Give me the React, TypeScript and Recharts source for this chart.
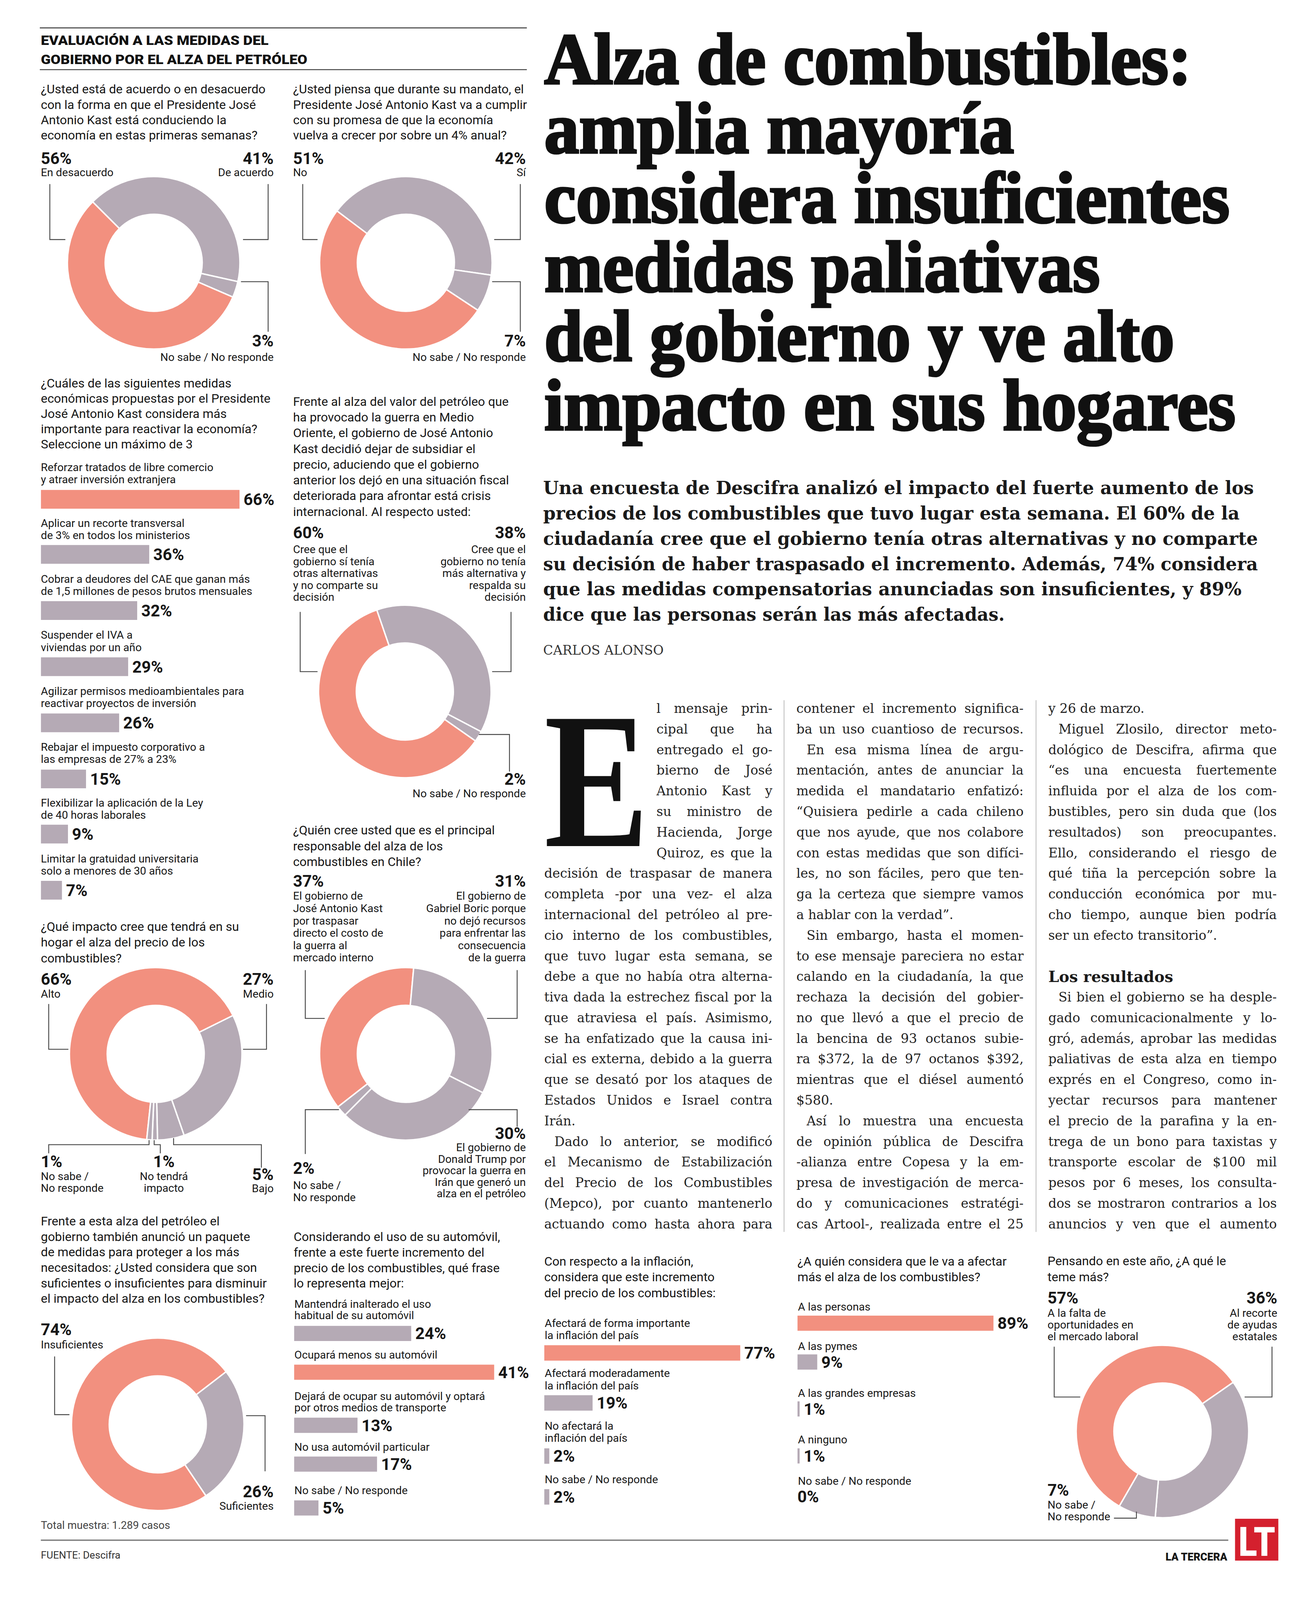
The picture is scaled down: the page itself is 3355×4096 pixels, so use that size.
import React from "react";
import { PieChart, Pie, Cell, BarChart, Bar, XAxis, YAxis, LabelList } from "recharts";

// page is laid out in the 1284x1568 preview units and scaled up to the 3355px window
const S = 3355 / 1284;

const SALMON = "#F2907F";
const MAUVE = "#B5AAB5";
const INK = "#171717";
const LINE = "#4a4a4a";
const SANS = "Roboto, 'Liberation Sans', Arial, sans-serif";
const SERIF = "'DejaVu Serif', 'Liberation Serif', serif";
const TITLE = "TitleSerif, 'Liberation Serif', 'DejaVu Serif', serif";
const DROPCAP = "DropCapSerif, 'Liberation Serif', serif";

// ---------- survey data ----------
const acuerdoNames = ["De acuerdo", "No sabe / No responde", "En desacuerdo"];
const acuerdoValues = [41, 3, 56];

const promesaNames = ["Sí", "No sabe / No responde", "No"];
const promesaValues = [42, 7, 51];

const subsidioNames = ["No tenía más alternativa", "No sabe / No responde", "Sí tenía otras alternativas"];
const subsidioValues = [38, 2, 60];

const impactoNames = ["Alto", "Medio", "Bajo", "No tendrá impacto", "No sabe / No responde"];
const impactoValues = [66, 27, 5, 1, 1];

const responsableNames = ["Gobierno de Kast", "Gobierno de Boric", "Gobierno de Trump", "No sabe / No responde"];
const responsableValues = [37, 31, 30, 2];

const medidasNames = ["Insuficientes", "Suficientes"];
const medidasValues = [74, 26];

const temorNames = ["Falta de oportunidades", "Recorte de ayudas estatales", "No sabe / No responde"];
const temorValues = [57, 36, 7];

const reactivarLabels = [
  "Reforzar tratados de libre comercio\ny atraer inversión extranjera",
  "Aplicar un recorte transversal\nde 3% en todos los ministerios",
  "Cobrar a deudores del CAE que ganan más\nde 1,5 millones de pesos brutos mensuales",
  "Suspender el IVA a\nviviendas por un año",
  "Agilizar permisos medioambientales para\nreactivar proyectos de inversión",
  "Rebajar el impuesto corporativo a\nlas empresas de 27% a 23%",
  "Flexibilizar la aplicación de la Ley\nde 40 horas laborales",
  "Limitar la gratuidad universitaria\nsolo a menores de 30 años",
];
const reactivarValues = [66, 36, 32, 29, 26, 15, 9, 7];

const autoLabels = [
  "Mantendrá inalterado el uso\nhabitual de su automóvil",
  "Ocupará menos su automóvil",
  "Dejará de ocupar su automóvil y optará\npor otros medios de transporte",
  "No usa automóvil particular",
  "No sabe / No responde",
];
const autoValues = [24, 41, 13, 17, 5];

const inflacionLabels = [
  "Afectará de forma importante\nla inflación del país",
  "Afectará moderadamente\nla inflación del país",
  "No afectará la\ninflación del país",
  "No sabe / No responde",
];
const inflacionValues = [77, 19, 2, 2];

const afectadosLabels = ["A las personas", "A las pymes", "A las grandes empresas", "A ninguno", "No sabe / No responde"];
const afectadosValues = [89, 9, 1, 1, 0];

// ---------- article text ----------
const titleLines = [
  "Alza de combustibles:",
  "amplia mayoría",
  "considera insuficientes",
  "medidas paliativas",
  "del gobierno y ve alto",
  "impacto en sus hogares",
];
const titleWidths = [634, 460, 671, 544, 617, 677];

const deckLines = [
  "Una encuesta de Descifra analizó el impacto del fuerte aumento de los",
  "precios de los combustibles que tuvo lugar esta semana. El 60% de la",
  "ciudadanía cree que el gobierno tenía otras alternativas y no comparte",
  "su decisión de haber traspasado el incremento. Además, 74% considera",
  "que las medidas compensatorias anunciadas son insuficientes, y 89%",
  "dice que las personas serán las más afectadas.",
];
const deckWidths = [696, 682, 700, 700, 684, 452];

const col1Lines = [
  "l mensaje prin-",
  "cipal que ha",
  "entregado el go-",
  "bierno de José",
  "Antonio Kast y",
  "su ministro de",
  "Hacienda, Jorge",
  "Quiroz, es que la",
  "decisión de traspasar de manera",
  "completa -por una vez- el alza",
  "internacional del petróleo al pre-",
  "cio interno de los combustibles,",
  "que tuvo lugar esta semana, se",
  "debe a que no había otra alterna-",
  "tiva dada la estrechez fiscal por la",
  "que atraviesa el país. Asimismo,",
  "se ha enfatizado que la causa ini-",
  "cial es externa, debido a la guerra",
  "que se desató por los ataques de",
  "Estados Unidos e Israel contra",
  "Irán.|",
  "  Dado lo anterior, se modificó",
  "el Mecanismo de Estabilización",
  "del Precio de los Combustibles",
  "(Mepco), por cuanto mantenerlo",
  "actuando como hasta ahora para",
];
const col2Lines = [
  "contener el incremento significa-",
  "ba un uso cuantioso de recursos.",
  "  En esa misma línea de argu-",
  "mentación, antes de anunciar la",
  "medida el mandatario enfatizó:",
  "“Quisiera pedirle a cada chileno",
  "que nos ayude, que nos colabore",
  "con estas medidas que son difíci-",
  "les, no son fáciles, pero que ten-",
  "ga la certeza que siempre vamos",
  "a hablar con la verdad”.|",
  "  Sin embargo, hasta el momen-",
  "to ese mensaje pareciera no estar",
  "calando en la ciudadanía, la que",
  "rechaza la decisión del gobier-",
  "no que llevó a que el precio de",
  "la bencina de 93 octanos subie-",
  "ra $372, la de 97 octanos $392,",
  "mientras que el diésel aumentó",
  "$580.|",
  "  Así lo muestra una encuesta",
  "de opinión pública de Descifra",
  "-alianza entre Copesa y la em-",
  "presa de investigación de merca-",
  "do y comunicaciones estratégi-",
  "cas Artool-, realizada entre el 25",
];
const col3Lines = [
  "y 26 de marzo.|",
  "  Miguel Zlosilo, director meto-",
  "dológico de Descifra, afirma que",
  "“es una encuesta fuertemente",
  "influida por el alza de los com-",
  "bustibles, pero sin duda que (los",
  "resultados) son preocupantes.",
  "Ello, considerando el riesgo de",
  "qué tiña la percepción sobre la",
  "conducción económica por mu-",
  "cho tiempo, aunque bien podría",
  "ser un efecto transitorio”.|",
  "",
  "#Los resultados",
  "  Si bien el gobierno se ha desple-",
  "gado comunicacionalmente y lo-",
  "gró, además, aprobar las medidas",
  "paliativas de esta alza en tiempo",
  "exprés en el Congreso, como in-",
  "yectar recursos para mantener",
  "el precio de la parafina y la en-",
  "trega de un bono para taxistas y",
  "transporte escolar de $100 mil",
  "pesos por 6 meses, los consulta-",
  "dos se mostraron contrarios a los",
  "anuncios y ven que el aumento",
];

// ---------- helpers ----------
const pick = (values: number[]) => {
  const m = Math.max(...values);
  return values.map((v) => (v === m ? SALMON : MAUVE));
};

let measureCtx: CanvasRenderingContext2D | null = null;
function textWidth(s: string, font: string) {
  if (!measureCtx) measureCtx = document.createElement("canvas").getContext("2d");
  measureCtx!.font = font;
  return measureCtx!.measureText(s).width;
}

// start = clockwise degrees from 12 o'clock where the first slice begins
function Donut({ cx, cy, names, values, start }: { cx: number; cy: number; names: string[]; values: number[]; start: number }) {
  const R = 84.5;
  const r = 47.5;
  const box = 2 * R + 4;
  const data = names.map((n, i) => ({ name: n, value: values[i] }));
  const colors = pick(values);
  return (
    <div style={{ position: "absolute", left: cx - box / 2, top: cy - box / 2 }}>
      <PieChart width={box} height={box} margin={{ top: 0, right: 0, bottom: 0, left: 0 }}>
        <Pie
          data={data}
          dataKey="value"
          nameKey="name"
          cx="50%"
          cy="50%"
          innerRadius={r}
          outerRadius={R}
          startAngle={90 - start}
          endAngle={90 - start - 360}
          stroke="#fff"
          strokeWidth={1.4}
          isAnimationActive={false}
        >
          {data.map((d, i) => (
            <Cell key={d.name} fill={colors[i]} />
          ))}
        </Pie>
      </PieChart>
    </div>
  );
}

type GroupProps = {
  x: number;
  y: number; // baseline of the first label line
  labels: string[];
  values: number[];
  maxW: number; // pixel length of the largest bar
  lh: number;
  toBar: number;
  barH: number;
  gaps: number[];
};

const PAD = 6;

function BarGroup({ x, y, labels, values, maxW, lh, toBar, barH, gaps }: GroupProps) {
  const max = Math.max(...values);
  const colors = pick(values);
  let base = y;
  const rows = labels.map((lab, i) => {
    const lines = lab.split("\n");
    const baselines = lines.map((_, k) => base + k * lh);
    const barTop = baselines[baselines.length - 1] + toBar;
    base = barTop + barH + (gaps[i] ?? 0);
    return { lines, baselines, barTop };
  });
  return (
    <>
      {rows.map((row, i) => (
        <div key={i} style={{ position: "absolute", left: x, top: row.barTop - PAD }}>
          <BarChart
            width={maxW + 60}
            height={barH + PAD * 2}
            data={[{ name: labels[i], value: values[i] }]}
            layout="vertical"
            margin={{ top: PAD, right: 60, bottom: PAD, left: 0 }}
            barCategoryGap={0}
          >
            <XAxis type="number" domain={[0, max]} hide />
            <YAxis type="category" dataKey="name" hide />
            <Bar dataKey="value" fill={colors[i]} barSize={barH} isAnimationActive={false}>
              <LabelList
                dataKey="value"
                position="right"
                offset={4}
                formatter={(v: any) => `${v}%`}
                fill={INK}
                fontSize={16}
                fontWeight={700}
                fontFamily={SANS}
              />
            </Bar>
          </BarChart>
        </div>
      ))}
      <svg width={1284} height={1568} style={{ position: "absolute", left: 0, top: 0, overflow: "visible", pointerEvents: "none" }}>
        {rows.map((row, i) =>
          row.lines.map((ln, k) => (
            <text key={`${i}-${k}`} x={x + 0.5} y={row.baselines[k]} fontSize={10.8} fontFamily={SANS} fill={INK}>
              {ln}
            </text>
          ))
        )}
        {/* a zero share draws no bar, so its value is written at the axis origin */}
        {rows.map((row, i) =>
          values[i] === 0 ? (
            <text key={`z${i}`} x={x} y={row.barTop + barH / 2 + 5.7} fontSize={16} fontWeight={700} fontFamily={SANS} fill={INK}>
              {`${values[i]}%`}
            </text>
          ) : null
        )}
      </svg>
    </>
  );
}

function Lines({
  x,
  y,
  lh = 0,
  lines,
  size = 12.2,
  weight = 400,
  anchor = "start",
  family = SANS,
  fill = INK,
}: {
  x: number;
  y: number;
  lh?: number;
  lines: string[];
  size?: number;
  weight?: number;
  anchor?: "start" | "middle" | "end";
  family?: string;
  fill?: string;
}) {
  return (
    <text fontSize={size} fontWeight={weight} textAnchor={anchor} fontFamily={family} fill={fill}>
      {lines.map((l, k) => (
        <tspan key={k} x={x} y={y + k * lh}>
          {l}
        </tspan>
      ))}
    </text>
  );
}

const Q = 12.2; // question size
const P = 16; // percentage size
const L = 10.8; // small label size

function Pct({ x, y, value, labels, anchor = "start", lh = 11.7, gap = 12.1 }: any) {
  return (
    <>
      <Lines x={x} y={y} lines={[value]} size={P} weight={700} anchor={anchor} />
      <Lines x={x} y={y + gap} lh={lh} lines={labels} size={L} anchor={anchor} />
    </>
  );
}

const BODY_SIZE = 12.6;

function BodyLine({ x, y, width, text, justify }: { x: number; y: number; width: number; text: string; justify: boolean }) {
  const font = `400 ${BODY_SIZE}px "DejaVu Serif"`;
  const words = text.split(" ").filter(Boolean);
  const widths = words.map((w) => textWidth(w, font));
  const total = widths.reduce((a, b) => a + b, 0);
  const natural = textWidth(words.join(" "), font);
  if (natural > width) {
    return (
      <text x={x} y={y} textLength={width} lengthAdjust="spacingAndGlyphs">
        {words.join(" ")}
      </text>
    );
  }
  if (!justify || words.length < 2) {
    return (
      <text x={x} y={y}>
        {words.join(" ")}
      </text>
    );
  }
  const gap = (width - total) / (words.length - 1);
  let cx = x;
  return (
    <text y={y}>
      {words.map((w, i) => {
        const px = cx;
        cx += widths[i] + gap;
        return (
          <tspan key={i} x={px}>
            {w}
          </tspan>
        );
      })}
    </text>
  );
}

function BodyColumn({ x, width, lines, dropLines = 0, dropX = 0 }: { x: number; width: number; lines: string[]; dropLines?: number; dropX?: number }) {
  const first = 698.5;
  const lh = 20.2;
  return (
    <g fontFamily={SERIF} fontSize={BODY_SIZE} fill="#222">
      {lines.map((raw, i) => {
        const y = first + i * lh;
        if (raw === "") return null;
        if (raw.startsWith("#")) {
          return (
            <text key={i} x={x} y={y + 1} fontWeight={700} fontSize={15} fill="#1a1a1a">
              {raw.slice(1)}
            </text>
          );
        }
        const indent = raw.startsWith("  ") ? 10 : 0;
        const ragged = raw.endsWith("|");
        const text = raw.replace(/\|$/, "").trim();
        const lx = i < dropLines ? dropX : x + indent;
        const w = i < dropLines ? x + width - dropX : width - indent;
        return <BodyLine key={i} x={lx} y={y} width={w} text={text} justify={!ragged} />;
      })}
    </g>
  );
}

// display faces with tight metrics, so headline lines and the drop cap keep to their own space
const displayFaces = `@font-face {
  font-family: "DropCapSerif";
  src: local("Liberation Serif Bold"), local("LiberationSerif-Bold");
  font-weight: 700;
  ascent-override: 66.5%;
  descent-override: 0%;
  line-gap-override: 0%;
}
@font-face {
  font-family: "TitleSerif";
  src: local("Liberation Serif Bold"), local("LiberationSerif-Bold");
  font-weight: 700;
  ascent-override: 72%;
  descent-override: 22%;
  line-gap-override: 0%;
}`;

// drop cap sized so its natural advance is its width, then stretched to its cap height
function DropCap({ x, baseline, width, capHeight }: { x: number; baseline: number; width: number; capHeight: number }) {
  const ref = 190;
  const adv = textWidth("E", `700 ${ref}px "Liberation Serif"`) || ref * 0.667;
  const size = (ref * width) / adv;
  const sy = capHeight / (size * 0.662);
  return (
    <text transform={`translate(${x} ${baseline}) scale(1 ${sy})`} x={0} y={0} fontFamily={DROPCAP} fontWeight={700} fontSize={size} fill="#111">
      E
    </text>
  );
}

const leaders: number[][][] = [
  // donut 1
  [[48.8, 180.4], [48.8, 234.7], [64, 234.7]],
  [[262.6, 180.4], [262.6, 234.7], [238, 234.7]],
  [[236, 276], [262.6, 276], [262.6, 325]],
  // donut 2
  [[296.5, 180.4], [296.5, 234.7], [311, 234.7]],
  [[509.6, 180.4], [509.6, 234.7], [484, 234.7]],
  [[482, 276], [509.6, 276], [509.6, 325]],
  // donut 3
  [[294, 599.5], [294, 658], [311, 658]],
  [[500.5, 599.5], [500.5, 658], [482, 658]],
  [[469, 719.6], [499, 719.6], [499, 756]],
  // donut 4
  [[47.7, 983.7], [47.7, 1028], [67, 1028]],
  [[261, 983.7], [261, 1028], [238, 1028]],
  [[146, 1117], [146, 1121.5], [47.7, 1121.5], [47.7, 1130]],
  [[151, 1117], [151, 1121.5], [157, 1121.5], [157, 1130]],
  [[170, 1115], [170, 1121.5], [256, 1121.5], [256, 1144]],
  // donut 5
  [[299, 950.5], [299, 997.8], [318, 997.8]],
  [[506.5, 950.5], [506.5, 997.8], [477, 997.8]],
  [[332, 1087.2], [299, 1087.2], [299, 1130.6]],
  [[459, 1087.2], [506.5, 1087.2], [506.5, 1104]],
  // donut 6
  [[53.5, 1329], [53.5, 1386], [68, 1386]],
  [[241, 1387], [259.6, 1387], [259.6, 1441.5]],
  // donut 7
  [[1032.5, 1319.4], [1032.5, 1368.7], [1058, 1368.7]],
  [[1245.8, 1319.4], [1245.8, 1368.7], [1219, 1368.7]],
  [[1113, 1481], [1113, 1487.4], [1091, 1487.4]],
];

export default function App() {
  return (
    <div style={{ position: "absolute", left: 0, top: 0, width: 3355, height: 4096, overflow: "hidden", background: "#fff" }}>
      <style>{displayFaces}</style>
      <div style={{ position: "absolute", left: 0, top: 0, width: 1284, height: 1568, transform: `scale(${S})`, transformOrigin: "0 0" }}>
        <Donut cx={150} cy={257.5} names={acuerdoNames} values={acuerdoValues} start={-45} />
        <Donut cx={397} cy={257.5} names={promesaNames} values={promesaValues} start={-53} />
        <Donut cx={396} cy={677.5} names={subsidioNames} values={subsidioValues} start={-19} />
        <Donut cx={152.5} cy={1032} names={impactoNames} values={impactoValues} start={186} />
        <Donut cx={397} cy={1032} names={responsableNames} values={responsableValues} start={232} />
        <Donut cx={154} cy={1395} names={medidasNames} values={medidasValues} start={146} />
        <Donut cx={1138.5} cy={1402} names={temorNames} values={temorValues} start={210} />

        <BarGroup x={39.5} y={461.5} labels={reactivarLabels} values={reactivarValues} maxW={194.6} lh={11.9} toBar={5.1} barH={20.4} gaps={[17.4, 17.4, 17.4, 17.4, 17.4, 17.4, 17.4, 0]} />
        <BarGroup x={287.8} y={1281.5} labels={autoLabels} values={autoValues} maxW={196} lh={11.1} toBar={5} barH={16.5} gaps={[17, 19.1, 17, 21.1, 0]} />
        <BarGroup x={533} y={1300} labels={inflacionLabels} values={inflacionValues} maxW={192} lh={12} toBar={5} barH={16.8} gaps={[15.4, 17.7, 18.6, 0]} />
        <BarGroup x={781} y={1284} labels={afectadosLabels} values={afectadosValues} maxW={192} lh={11.5} toBar={3.5} barH={16.5} gaps={[18.6, 26, 25.6, 20.4, 0]} />

        <svg width={1284} height={1568} style={{ position: "absolute", left: 0, top: 0, overflow: "visible", pointerEvents: "none" }}>
          {/* section header */}
          <line x1={39} x2={516} y1={27.3} y2={27.3} stroke={LINE} strokeWidth={1} />
          <text x={40} y={44} fontFamily={SANS} fontWeight={900} fontSize={12.6} fill="#111" textLength={223} lengthAdjust="spacingAndGlyphs">
            EVALUACIÓN A LAS MEDIDAS DEL
          </text>
          <text x={40} y={62.6} fontFamily={SANS} fontWeight={900} fontSize={12.6} fill="#111" textLength={261} lengthAdjust="spacingAndGlyphs">
            GOBIERNO POR EL ALZA DEL PETRÓLEO
          </text>
          <line x1={39} x2={516} y1={68.2} y2={68.2} stroke={LINE} strokeWidth={1} />

          {/* donut 1 and 2 */}
          <Lines x={40} y={91.6} lh={15} size={Q} lines={["¿Usted está de acuerdo o en desacuerdo", "con la forma en que el Presidente José", "Antonio Kast está conduciendo la", "economía en estas primeras semanas?"]} />
          <Lines x={287} y={91.6} lh={15} size={Q} lines={["¿Usted piensa que durante su mandato, el", "Presidente José Antonio Kast va a cumplir", "con su promesa de que la economía", "vuelva a crecer por sobre un 4% anual?"]} />
          <Pct x={40} y={160.6} value="56%" labels={["En desacuerdo"]} />
          <Pct x={268} y={160.6} value="41%" labels={["De acuerdo"]} anchor="end" />
          <Pct x={268} y={339.6} value="3%" labels={["No sabe / No responde"]} anchor="end" gap={14.1} />
          <Pct x={287} y={160.6} value="51%" labels={["No"]} />
          <Pct x={515} y={160.6} value="42%" labels={["Sí"]} anchor="end" />
          <Pct x={515} y={339.6} value="7%" labels={["No sabe / No responde"]} anchor="end" gap={14.1} />

          {/* bars: reactivar */}
          <Lines x={40} y={379.5} lh={15} size={Q} lines={["¿Cuáles de las siguientes medidas", "económicas propuestas por el Presidente", "José Antonio Kast considera más", "importante para reactivar la economía?", "Seleccione un máximo de 3"]} />

          {/* donut 3 */}
          <Lines x={287} y={397.6} lh={15.4} size={Q} lines={["Frente al alza del valor del petróleo que", "ha provocado la guerra en Medio", "Oriente, el gobierno de José Antonio", "Kast decidió dejar de subsidiar el", "precio, aduciendo que el gobierno", "anterior los dejó en una situación fiscal", "deteriorada para afrontar está crisis", "internacional. Al respecto usted:"]} />
          <Pct x={287} y={527.3} value="60%" labels={["Cree que el", "gobierno sí tenía", "otras alternativas", "y no comparte su", "decisión"]} gap={14.7} />
          <Pct x={515} y={527.3} value="38%" labels={["Cree que el", "gobierno no tenía", "más alternativa y", "respalda su", "decisión"]} anchor="end" gap={14.7} />
          <Pct x={515} y={769} value="2%" labels={["No sabe / No responde"]} anchor="end" />

          {/* donut 4 */}
          <Lines x={40} y={912} lh={15.5} size={Q} lines={["¿Qué impacto cree que tendrá en su", "hogar el alza del precio de los", "combustibles?"]} />
          <Pct x={40} y={965} value="66%" labels={["Alto"]} gap={12.5} />
          <Pct x={268} y={965} value="27%" labels={["Medio"]} anchor="end" gap={12.5} />
          <Pct x={40} y={1143.4} value="1%" labels={["No sabe /", "No responde"]} gap={12.6} />
          <Pct x={160.5} y={1143.4} value="1%" labels={["No tendrá", "impacto"]} anchor="middle" gap={12.6} />
          <Pct x={268} y={1156} value="5%" labels={["Bajo"]} anchor="end" gap={12} />

          {/* donut 5 */}
          <Lines x={287} y={817.6} lh={15.4} size={Q} lines={["¿Quién cree usted que es el principal", "responsable del alza de los", "combustibles en Chile?"]} />
          <Pct x={287} y={868.6} value="37%" labels={["El gobierno de", "José Antonio Kast", "por traspasar", "directo el costo de", "la guerra al", "mercado interno"]} lh={12.1} gap={12.9} />
          <Pct x={515} y={868.6} value="31%" labels={["El gobierno de", "Gabriel Boric porque", "no dejó recursos", "para enfrentar las", "consecuencia", "de la guerra"]} anchor="end" lh={12.1} gap={12.9} />
          <Pct x={515} y={1116} value="30%" labels={["El gobierno de", "Donald Trump por", "provocar la guerra en", "Irán que generó un", "alza en el petróleo"]} anchor="end" lh={11.3} gap={12} />
          <Pct x={287} y={1150} value="2%" labels={["No sabe /", "No responde"]} gap={15} />

          {/* donut 6 */}
          <Lines x={40} y={1200.5} lh={15.2} size={Q} lines={["Frente a esta alza del petróleo el", "gobierno también anunció un paquete", "de medidas para proteger a los más", "necesitados: ¿Usted considera que son", "suficientes o insuficientes para disminuir", "el impacto del alza en los combustibles?"]} />
          <Pct x={40} y={1308} value="74%" labels={["Insuficientes"]} gap={13} />
          <Pct x={268} y={1467} value="26%" labels={["Suficientes"]} anchor="end" gap={12} />

          {/* bottom bar questions */}
          <Lines x={287.6} y={1216} lh={15.2} size={Q} lines={["Considerando el uso de su automóvil,", "frente a este fuerte incremento del", "precio de los combustibles, qué frase", "lo representa mejor:"]} />
          <Lines x={533} y={1240} lh={15.4} size={Q} lines={["Con respecto a la inflación,", "considera que este incremento", "del precio de los combustibles:"]} />
          <Lines x={781} y={1240} lh={15.2} size={Q} lines={["¿A quién considera que le va a afectar", "más el alza de los combustibles?"]} />

          {/* donut 7 */}
          <Lines x={1026} y={1239.5} lh={15.8} size={Q} lines={["Pensando en este año, ¿A qué le", "teme más?"]} />
          <Pct x={1026} y={1277} value="57%" labels={["A la falta de", "oportunidades en", "el mercado laboral"]} lh={11.5} gap={13} />
          <Pct x={1251} y={1277} value="36%" labels={["Al recorte", "de ayudas", "estatales"]} anchor="end" lh={11.5} gap={13} />
          <Pct x={1026} y={1465.4} value="7%" labels={["No sabe /", "No responde"]} lh={11.6} gap={12.6} />

          {leaders.map((pts, i) => (
            <polyline key={i} points={pts.map((p) => p.join(",")).join(" ")} fill="none" stroke={LINE} strokeWidth={0.9} />
          ))}

          {/* footer */}
          <Lines x={40} y={1498} size={10.5} fill="#444" lines={["Total muestra: 1.289 casos"]} />
          <line x1={40} x2={1203} y1={1509} y2={1509} stroke="#777" strokeWidth={1.2} />
          <Lines x={40} y={1527} size={10} fill="#333" lines={["FUENTE: Descifra"]} />
          <text x={1141.5} y={1529} fontFamily={SANS} fontWeight={900} fontSize={10.5} fill={INK} textLength={60.5} lengthAdjust="spacingAndGlyphs">
            LA TERCERA
          </text>
          <rect x={1209.6} y={1488} width={42.4} height={41} fill="#D4202E" />
          <text x={1213} y={1524.5} fontFamily={SANS} fontWeight={900} fontSize={40} fill="#fff" textLength={36} lengthAdjust="spacingAndGlyphs">
            LT
          </text>

          {/* title */}
          {titleLines.map((t, i) => (
            <text
              key={t}
              x={533}
              y={82 + i * 67.8}
              fontFamily={TITLE}
              fontWeight={700}
              fontSize={71}
              fill="#111"
              stroke="#111"
              strokeWidth={2.2}
              textLength={titleWidths[i]}
              lengthAdjust="spacingAndGlyphs"
            >
              {t}
            </text>
          ))}

          {/* deck */}
          {deckLines.map((t, i) => (
            <text key={i} x={532} y={484.2 + i * 24.8} fontFamily={SERIF} fontWeight={700} fontSize={18} fill="#1a1a1a" textLength={deckWidths[i]} lengthAdjust="spacingAndGlyphs">
              {t}
            </text>
          ))}
          <text x={532} y={641.5} fontFamily={SERIF} fontSize={12.5} fill="#333" textLength={118} lengthAdjust="spacingAndGlyphs">
            CARLOS ALONSO
          </text>

          {/* body */}
          <DropCap x={533} baseline={829} width={102.5} capHeight={126} />
          <BodyColumn x={533} width={223.5} lines={col1Lines} dropLines={8} dropX={643} />
          <BodyColumn x={780} width={222.5} lines={col2Lines} />
          <BodyColumn x={1026.7} width={223.8} lines={col3Lines} />
          <line x1={767.9} x2={767.9} y1={686} y2={1207} stroke="#bdbdbd" strokeWidth={0.8} />
          <line x1={1014.7} x2={1014.7} y1={686} y2={1207} stroke="#bdbdbd" strokeWidth={0.8} />
        </svg>
      </div>
    </div>
  );
}
